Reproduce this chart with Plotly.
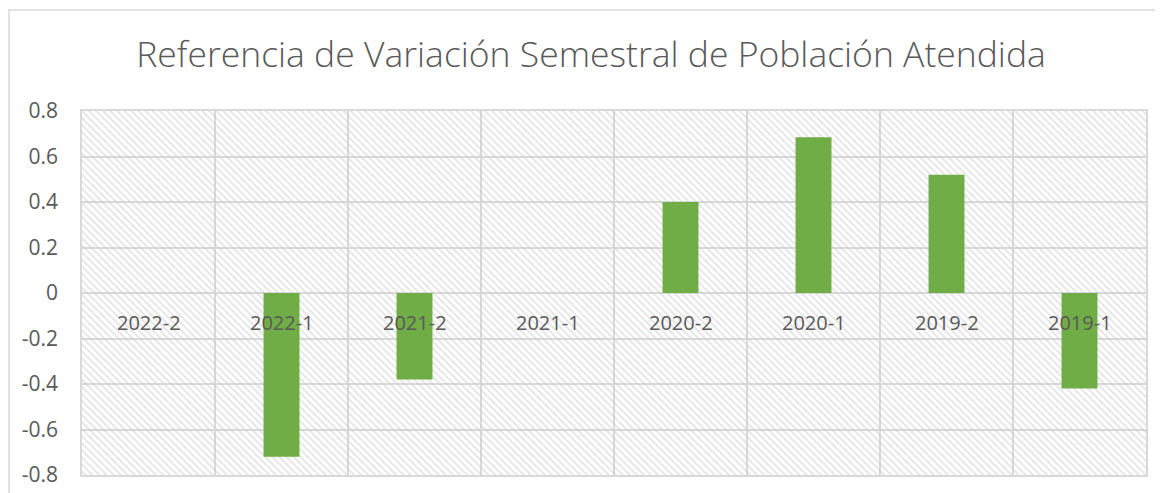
import plotly.graph_objects as go

categories = ["2022-2", "2022-1", "2021-2", "2021-1", "2020-2", "2020-1", "2019-2", "2019-1"]
values = [0, -0.72, -0.38, 0, 0.40, 0.685, 0.52, -0.42]
y_ticks = [0.8, 0.6, 0.4, 0.2, 0, -0.2, -0.4, -0.6, -0.8]
y_tick_text = ["0.8", "0.6", "0.4", "0.2", "0", "-0.2", "-0.4", "-0.6", "-0.8"]
title_text = "Referencia de Variación Semestral de Población Atendida"

Y_MIN, Y_MAX = -0.8, 0.8
LABEL_Y = -0.13
GRID = "#d9d9d9"
TXT = "#595959"
FONT = "Open Sans"
W, H = 1155, 485
L, R, T, B = 74, 17, 103, 18
PW, PH = W - L - R, H - T - B

fig = go.Figure()

# hatched plot-area background
fig.add_trace(go.Bar(
    x=categories, y=[Y_MAX - Y_MIN] * len(categories), base=[Y_MIN] * len(categories),
    width=1, marker=dict(color="rgba(0,0,0,0)", line=dict(width=0),
                         pattern=dict(shape="\\", fgcolor="#cccccc", bgcolor="rgba(0,0,0,0)",
                                      size=5, solidity=0.4)),
    hoverinfo="skip", showlegend=False))

fig.add_trace(go.Bar(
    x=categories, y=values, width=0.27,
    marker=dict(color="#70AD47", line=dict(width=0)),
    showlegend=False))

for c in categories:
    fig.add_annotation(x=c, y=LABEL_Y, xref="x", yref="y", text=c, showarrow=False,
                       font=dict(family=FONT, size=20, color=TXT))

# outer chart border (top and left visible)
fig.add_shape(type="rect", xref="paper", yref="paper",
              x0=(1 - L) / PW, x1=1.05, y0=-0.2, y1=1 + (T - 2) / PH,
              line=dict(color=GRID, width=1.5), fillcolor="rgba(0,0,0,0)", layer="below")

fig.update_layout(
    width=W, height=H,
    margin=dict(l=L, r=R, t=T, b=B, autoexpand=False),
    paper_bgcolor="white", plot_bgcolor="white",
    barmode="overlay",
    title=dict(text=title_text, x=583 / W, xanchor="center", y=1 - 47 / H, yanchor="middle",
               font=dict(family=FONT, size=35.5, color=TXT, weight=300)),
    font=dict(family=FONT, color=TXT),
    xaxis=dict(type="category", tickson="boundaries", showgrid=True, gridcolor=GRID, gridwidth=1.5,
               showticklabels=False, ticks="", showline=True, mirror=True, linecolor=GRID, linewidth=1.5,
               range=[-0.5, len(categories) - 0.5], zeroline=False, automargin=False),
    yaxis=dict(range=[Y_MIN, Y_MAX], tickvals=y_ticks, ticktext=y_tick_text, showgrid=True,
               gridcolor=GRID, gridwidth=1.5, zeroline=False, showline=True, mirror=True,
               linecolor=GRID, linewidth=1.5, ticks="", ticklabelstandoff=18, automargin=False,
               tickfont=dict(family=FONT, size=21, color=TXT)),
)

fig.write_html("out.html")
